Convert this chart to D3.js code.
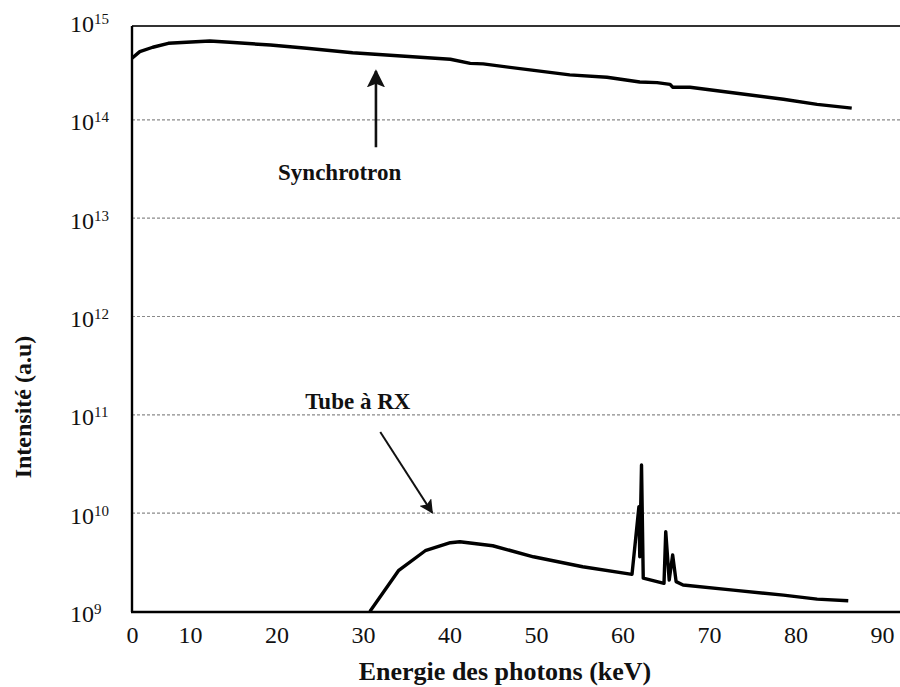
<!DOCTYPE html>
<html>
<head>
<meta charset="utf-8">
<script src="https://cdn.jsdelivr.net/npm/d3@7"></script>
<style>
  body { margin: 0; background: #fff; }
  svg { display: block; }
  text { font-family: "Liberation Serif", "Times New Roman", serif; fill: #111; }
</style>
</head>
<body>
<svg id="chart" width="900" height="687"></svg>
<script>
// energy (keV) where the plotted window starts; the axis labels it "0"
const xStart = 3.3;
const xTicks = [xStart, 10, 20, 30, 40, 50, 60, 70, 80, 90];
const yTicks = [1e9, 1e10, 1e11, 1e12, 1e13, 1e14, 1e15];

// [energie keV, intensite a.u]
const synchrotron = [
    [3.3, 4.18e14], [4.2, 4.88e14], [5.7, 5.41e14], [7.5, 5.93e14], [9.6, 6.07e14],
    [12.3, 6.26e14], [14.6, 6.07e14], [19.3, 5.70e14], [23.5, 5.28e14], [28.8, 4.76e14],
    [36.6, 4.28e14], [40.1, 4.08e14], [42.4, 3.71e14], [43.9, 3.66e14], [49.3, 3.18e14],
    [53.9, 2.83e14], [58.2, 2.68e14], [62.0, 2.40e14], [64.0, 2.36e14], [65.5, 2.27e14],
    [65.8, 2.12e14], [67.8, 2.12e14], [73.2, 1.84e14], [78.6, 1.60e14], [82.5, 1.42e14],
    [86.5, 1.30e14]
];
const tubeRX = [
    [30.8, 9.9e8], [34.1, 2.57e9], [37.2, 4.10e9], [40.1, 4.95e9], [41.2, 5.06e9],
    [45.0, 4.61e9], [49.7, 3.56e9], [55.4, 2.82e9], [61.1, 2.36e9], [61.9, 1.15e10],
    [62.0, 3.56e9], [62.2, 3.05e10], [62.4, 2.16e9], [64.8, 1.91e9], [65.0, 6.40e9],
    [65.4, 2.06e9], [65.8, 3.71e9], [66.2, 1.99e9], [67.0, 1.84e9], [72.8, 1.63e9],
    [78.6, 1.45e9], [82.5, 1.32e9], [86.1, 1.27e9]
];
// label text, label anchor, arrow tail, arrow tip (keV, intensite)
const notes = [
    { text: "Synchrotron", at: [27.3, 2.4e13], from: [31.5, 5.2e13], to: [31.5, 3.1e14] },
    { text: "Tube à RX", at: [29.4, 1.13e11], from: [32.0, 6.6e10], to: [38.0, 1.0e10] }
];

const svg = d3.select("#chart");
const plot = { left: 132, right: 905, top: 26, bottom: 612 };

const x = d3.scaleLinear()
    .domain([xStart, 90])
    .range([plot.left, 882]);
const y = d3.scaleLog()
    .domain([1e9, 1e15])
    .range([611, 21]);

// dashed grid
svg.append("g")
    .attr("class", "grid")
    .attr("transform", `translate(${plot.left},0)`)
    .call(d3.axisLeft(y).tickValues(yTicks.slice(1, -1)).tickSize(-(plot.right - plot.left)).tickFormat(""))
    .call(g => g.select(".domain").remove())
    .call(g => g.selectAll("line")
        .attr("stroke", "#8a8a8a")
        .attr("stroke-width", 1.2)
        .attr("stroke-dasharray", "3,2"));

// frame
svg.append("line")
    .attr("x1", plot.left).attr("x2", plot.right)
    .attr("y1", plot.top).attr("y2", plot.top)
    .attr("stroke", "#333").attr("stroke-width", 2.2);
svg.append("line")
    .attr("x1", plot.left).attr("x2", plot.left)
    .attr("y1", plot.top).attr("y2", plot.bottom)
    .attr("stroke", "#000").attr("stroke-width", 2.4);

// x axis
svg.append("g")
    .attr("class", "x-axis")
    .attr("transform", `translate(0,${plot.bottom})`)
    .call(d3.axisBottom(x).tickValues(xTicks).tickSize(0).tickPadding(14)
        .tickFormat(d => d == xStart ? "0" : d))
    .call(g => g.select(".domain").remove())
    .call(g => g.selectAll("text")
        .attr("font-size", 24)
        .attr("font-family", "Liberation Serif")
        .attr("fill", "#111"));
svg.append("line")
    .attr("x1", plot.left - 1).attr("x2", plot.right)
    .attr("y1", plot.bottom).attr("y2", plot.bottom)
    .attr("stroke", "#000").attr("stroke-width", 2.6);

// y labels, 10 with exponent
const yLab = svg.append("g")
    .attr("class", "y-axis")
    .selectAll("text")
    .data(yTicks)
    .join("text")
    .attr("x", 70)
    .attr("y", d => y(d) + 11)
    .attr("font-size", 24);
yLab.append("tspan").text("10");
yLab.append("tspan")
    .attr("font-size", 15)
    .attr("dy", -8)
    .text(d => Math.round(Math.log10(d)));

// axis titles
svg.append("text")
    .attr("x", 505)
    .attr("y", 680)
    .attr("text-anchor", "middle")
    .attr("font-size", 26)
    .attr("font-weight", "bold")
    .text("Energie des photons (keV)");
svg.append("text")
    .attr("transform", "translate(31,407) rotate(-90)")
    .attr("text-anchor", "middle")
    .attr("font-size", 24)
    .attr("font-weight", "bold")
    .text("Intensité (a.u)");

// data lines
svg.append("clipPath")
    .attr("id", "clip")
    .append("rect")
    .attr("x", plot.left)
    .attr("y", plot.top)
    .attr("width", plot.right - plot.left)
    .attr("height", plot.bottom - plot.top);

const line = d3.line()
    .x(d => x(d[0]))
    .y(d => y(d[1]));

svg.append("g")
    .attr("clip-path", "url(#clip)")
    .selectAll("path")
    .data([synchrotron, tubeRX])
    .join("path")
    .attr("d", line)
    .attr("fill", "none")
    .attr("stroke", "#000")
    .attr("stroke-width", 3.4)
    .attr("stroke-linejoin", "round");

// annotations
svg.append("defs").append("marker")
    .attr("id", "head")
    .attr("viewBox", "0 0 10 10")
    .attr("refX", 9)
    .attr("refY", 5)
    .attr("markerWidth", 7)
    .attr("markerHeight", 7)
    .attr("markerUnits", "strokeWidth")
    .attr("orient", "auto")
    .append("path")
    .attr("d", "M0,0 L10,5 L0,10 L2,5 Z")
    .attr("fill", "#111");

const note = svg.append("g").attr("class", "notes")
    .selectAll("g")
    .data(notes)
    .join("g");
note.append("line")
    .attr("x1", d => x(d.from[0]))
    .attr("y1", d => y(d.from[1]))
    .attr("x2", d => x(d.to[0]))
    .attr("y2", d => y(d.to[1]))
    .attr("stroke", "#111")
    .attr("stroke-width", (d, i) => i == 0 ? 2.6 : 2)
    .attr("marker-end", "url(#head)");
note.append("text")
    .attr("x", d => x(d.at[0]))
    .attr("y", d => y(d.at[1]))
    .attr("text-anchor", "middle")
    .attr("font-size", 23)
    .attr("font-weight", "bold")
    .text(d => d.text);
</script>
</body>
</html>
